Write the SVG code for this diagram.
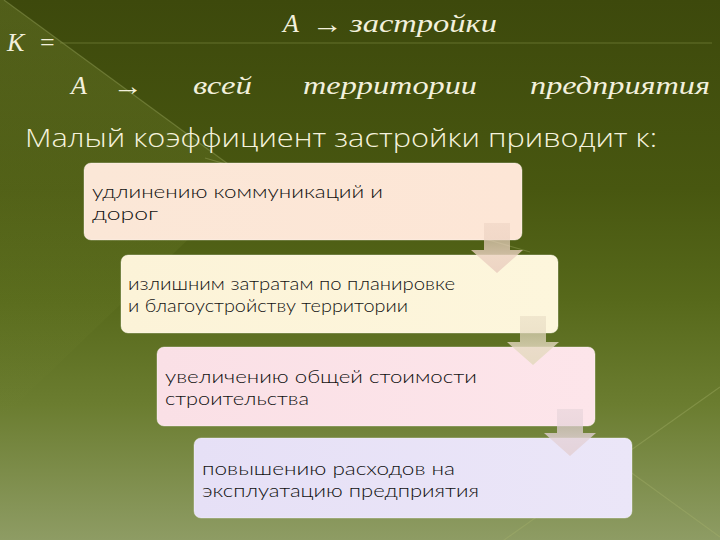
<svg xmlns="http://www.w3.org/2000/svg" width="720" height="540" viewBox="0 0 720 540">
  <defs>
    <linearGradient id="bg" x1="0" y1="0" x2="0" y2="1">
      <stop offset="0" stop-color="#3d490c"/>
      <stop offset="0.35" stop-color="#485710"/>
      <stop offset="0.55" stop-color="#56681a"/>
      <stop offset="0.75" stop-color="#6b7d30"/>
      <stop offset="1" stop-color="#8e9c64"/>
    </linearGradient>
    <linearGradient id="wedge" x1="0" y1="0" x2="0" y2="1">
      <stop offset="0" stop-color="#8a9a40" stop-opacity="0.26"/>
      <stop offset="0.6" stop-color="#8a9a40" stop-opacity="0.12"/>
      <stop offset="1" stop-color="#8a9a40" stop-opacity="0"/>
    </linearGradient>
    <linearGradient id="g1" x1="0" y1="0" x2="1" y2="0">
      <stop offset="0" stop-color="#fbe7d7"/>
      <stop offset="1" stop-color="#fde6d6"/>
    </linearGradient>
    <linearGradient id="g2" x1="0" y1="0" x2="1" y2="0">
      <stop offset="0" stop-color="#fcf3d8"/>
      <stop offset="1" stop-color="#fdf6dc"/>
    </linearGradient>
    <linearGradient id="g3" x1="0" y1="0" x2="1" y2="0">
      <stop offset="0" stop-color="#fae0e6"/>
      <stop offset="1" stop-color="#fde5ea"/>
    </linearGradient>
    <linearGradient id="g4" x1="0" y1="0" x2="1" y2="0">
      <stop offset="0" stop-color="#e6e0f6"/>
      <stop offset="1" stop-color="#ebe6f8"/>
    </linearGradient>
    <linearGradient id="a1" x1="0" y1="0" x2="0" y2="1">
      <stop offset="0" stop-color="#ecd2c2" stop-opacity="0.55"/>
      <stop offset="1" stop-color="#ecd2c2" stop-opacity="0.95"/>
    </linearGradient>
    <linearGradient id="a2" x1="0" y1="0" x2="0" y2="1">
      <stop offset="0" stop-color="#e6dac2" stop-opacity="0.55"/>
      <stop offset="1" stop-color="#e6dac2" stop-opacity="0.95"/>
    </linearGradient>
    <linearGradient id="a3" x1="0" y1="0" x2="0" y2="1">
      <stop offset="0" stop-color="#e4d2d8" stop-opacity="0.55"/>
      <stop offset="1" stop-color="#e4d2d8" stop-opacity="0.95"/>
    </linearGradient>
  </defs>
  <style>
    .f { font-family: "Liberation Serif", "Times New Roman", serif; font-style: italic; font-size: 26px; fill: #f2f0dc; }
    .up { font-style: normal; }
    .title { font-family: "Open Sans", "Liberation Sans", Arial, sans-serif; font-weight: 300; font-size: 25px; fill: #f5f2dc; }
    .box { stroke: #ffffff; stroke-opacity: 0.35; stroke-width: 1; }
    .t { font-family: Lato, "Open Sans", "Liberation Sans", Arial, sans-serif; font-weight: 300; font-size: 18px; fill: #111111; }
    .bgline { stroke: #a8b46c; stroke-opacity: 0.35; stroke-width: 1.2; fill: none; }
  </style>

  <!-- background -->
  <rect x="0" y="0" width="720" height="540" fill="url(#bg)"/>
  <polygon points="0,0 4,0 250,180 0,420" fill="url(#wedge)"/>
  <line class="bgline" x1="4" y1="0" x2="250" y2="180"/>
  <line class="bgline" x1="205" y1="158" x2="530" y2="252" stroke-opacity="0.2"/>
  <line class="bgline" x1="720" y1="387" x2="490" y2="550"/>
  <line class="bgline" x1="600" y1="450" x2="720" y2="537"/>

  <!-- formula -->
  <text class="f" x="7" y="51" font-size="30">К</text>
  <text class="f up" x="40" y="51" font-size="30">=</text>
  <line x1="60" y1="43" x2="712" y2="43" stroke="#7c8a40" stroke-opacity="0.6" stroke-width="1"/>
  <text class="f" x="283" y="32">А</text>
  <text class="f up" x="312" y="33" font-size="32" textLength="31" lengthAdjust="spacingAndGlyphs">→</text>
  <text class="f" x="350" y="32" textLength="147" lengthAdjust="spacingAndGlyphs">застройки</text>
  <text class="f" x="71" y="94">А</text>
  <text class="f up" x="113" y="95" font-size="32" textLength="30" lengthAdjust="spacingAndGlyphs">→</text>
  <text class="f" x="193" y="94" textLength="59" lengthAdjust="spacingAndGlyphs">всей</text>
  <text class="f" x="303" y="94" textLength="174" lengthAdjust="spacingAndGlyphs">территории</text>
  <text class="f" x="530" y="94" textLength="180" lengthAdjust="spacingAndGlyphs">предприятия</text>

  <!-- title -->
  <text class="title" x="25" y="147" textLength="632" lengthAdjust="spacingAndGlyphs">Малый коэффициент застройки приводит к:</text>

  <!-- nodes -->
  <g id="node1">
    <rect class="box" x="84" y="163" width="438" height="77" rx="7" fill="url(#g1)"/>
    <text class="t"><tspan x="92" y="198" textLength="291" lengthAdjust="spacingAndGlyphs">удлинению коммуникаций и</tspan><tspan x="92" y="220" textLength="66" lengthAdjust="spacingAndGlyphs">дорог</tspan></text>
  </g>
  <g id="node2">
    <rect class="box" x="121" y="255" width="437" height="78" rx="7" fill="url(#g2)"/>
    <text class="t"><tspan x="128" y="290" textLength="327" lengthAdjust="spacingAndGlyphs">излишним затратам по планировке</tspan><tspan x="128" y="312" textLength="280" lengthAdjust="spacingAndGlyphs">и благоустройству территории</tspan></text>
  </g>
  <g id="node3">
    <rect class="box" x="157" y="347" width="438" height="79" rx="7" fill="url(#g3)"/>
    <text class="t"><tspan x="165" y="383" textLength="312" lengthAdjust="spacingAndGlyphs">увеличению общей стоимости</tspan><tspan x="165" y="405" textLength="144" lengthAdjust="spacingAndGlyphs">строительства</tspan></text>
  </g>
  <g id="node4">
    <rect class="box" x="194" y="438" width="438" height="80" rx="7" fill="url(#g4)"/>
    <text class="t"><tspan x="202" y="475" textLength="253" lengthAdjust="spacingAndGlyphs">повышению расходов на</tspan><tspan x="202" y="497" textLength="277" lengthAdjust="spacingAndGlyphs">эксплуатацию предприятия</tspan></text>
  </g>

  <!-- connectors -->
  <g id="connectors">
    <polygon points="484,223 510,223 510,250 523,250 497,273 471,250 484,250" fill="url(#a1)"/>
    <polygon points="520,316 546,316 546,342 559,342 533,365 507,342 520,342" fill="url(#a2)"/>
    <polygon points="557,409 583,409 583,433 596,433 570,456 544,433 557,433" fill="url(#a3)"/>
  </g>
</svg>
